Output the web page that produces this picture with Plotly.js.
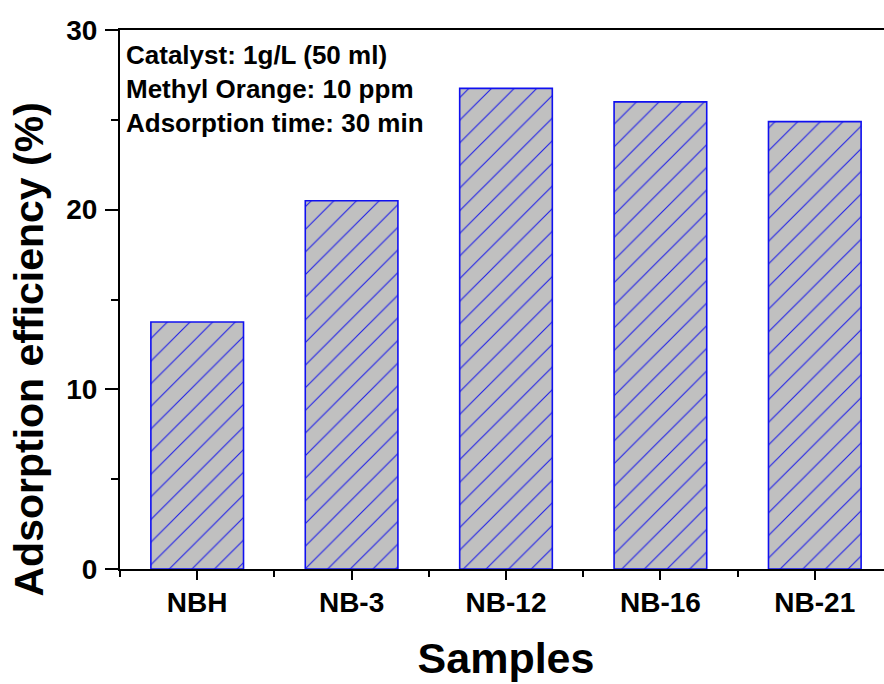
<!DOCTYPE html>
<html>
<head>
<meta charset="utf-8">
<script src="https://cdn.plot.ly/plotly-3.0.1.min.js"></script>
<style>
html,body{margin:0;padding:0;overflow:hidden;background:#fff;width:884px;height:684px;}
#chart{width:900px;height:684px;}
</style>
</head>
<body>
<div id="chart"></div>
<script>
const categories = ["NBH", "NB-3", "NB-12", "NB-16", "NB-21"];
const efficiency = [13.75, 20.5, 26.75, 26.0, 24.9];
const yTicks = [0, 10, 20, 30];
const noteLines = ["Catalyst: 1g/L (50 ml)", "Methyl Orange: 10 ppm", "Adsorption time: 30 min"];
const xTitle = "Samples";
const yTitle = "Adsorption efficiency (%)";

const xIdx = categories.map((c, i) => i);
const FONT = "Liberation Sans, Arial, sans-serif";

const trace = {
  type: "bar",
  x: xIdx,
  y: efficiency,
  width: 0.6,
  marker: {
    color: "#c0c0c0",
    line: {color: "#1010f0", width: 1.6},
    pattern: {shape: "/", size: 16, solidity: 0.07, fgcolor: "#2020e8", bgcolor: "#c0c0c0", fillmode: "replace"}
  },
  hoverinfo: "x+y"
};

const layout = {
  width: 900,
  height: 684,
  margin: {l: 120, r: 8, t: 30, b: 115},
  paper_bgcolor: "#fff",
  plot_bgcolor: "#fff",
  showlegend: false,
  font: {family: FONT, color: "#000"},
  xaxis: {
    range: [-0.5, 4.5],
    tickmode: "array",
    tickvals: xIdx,
    ticktext: categories,
    ticks: "outside",
    ticklen: 9,
    tickwidth: 2,
    tickcolor: "#000",
    minor: {tickmode: "linear", tick0: 0.5, dtick: 1, ticks: "outside", ticklen: 6, tickwidth: 2, tickcolor: "#000"},
    showline: true,
    linewidth: 2,
    linecolor: "#000",
    mirror: true,
    showgrid: false,
    zeroline: false,
    tickfont: {family: FONT, size: 28, color: "#000", weight: "bold"},
    ticklabelstandoff: -2,
    title: {text: "<b>" + xTitle + "</b>", font: {family: FONT, size: 43, color: "#000"}, standoff: 26}
  },
  yaxis: {
    range: [0, 30],
    tickmode: "array",
    tickvals: yTicks,
    ticks: "outside",
    ticklen: 13,
    tickwidth: 2,
    tickcolor: "#000",
    minor: {tickmode: "linear", tick0: 5, dtick: 10, ticks: "outside", ticklen: 7, tickwidth: 2, tickcolor: "#000"},
    showline: true,
    linewidth: 2,
    linecolor: "#000",
    mirror: true,
    showgrid: false,
    zeroline: false,
    tickfont: {family: FONT, size: 28, color: "#000", weight: "bold"},
    ticklabelstandoff: 2
  },
  annotations: [{
    xref: "paper", yref: "paper",
    x: 0, y: 1,
    xanchor: "left", yanchor: "top",
    xshift: 4, yshift: -8,
    align: "left",
    showarrow: false,
    text: noteLines.map(s => "<b>" + s + "</b>").join("<br>"),
    font: {family: FONT, size: 26, color: "#000"}
  }, {
    xref: "paper", yref: "paper",
    x: 0, y: 0.5,
    xanchor: "center", yanchor: "middle",
    xshift: -92, yshift: -50,
    textangle: -90,
    showarrow: false,
    text: "<b>" + yTitle + "</b>",
    font: {family: FONT, size: 41, color: "#000"}
  }]
};

Plotly.newPlot("chart", [trace], layout, {displayModeBar: false, staticPlot: true});
</script>
</body>
</html>
